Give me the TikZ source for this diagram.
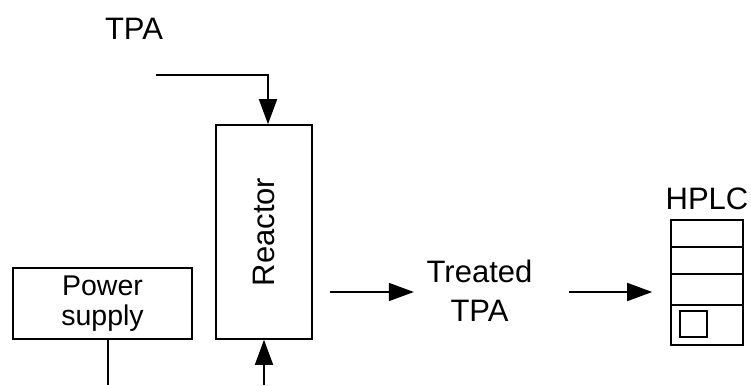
\documentclass[tikz,border=0pt]{standalone}
\usepackage{fontspec}
\setmainfont{Liberation Sans}
\usetikzlibrary{arrows.meta,positioning}
\begin{document}
\begin{tikzpicture}[x=1pt,y=-1pt,
  line width=1.6pt,
  font=\fontsize{31}{39}\selectfont,
  arr/.style={-{Triangle[length=25pt,width=18pt]}},
  box/.style={draw,rectangle,inner sep=0pt},
  lbl/.style={inner sep=0pt,align=center}]
\useasboundingbox (0,0) rectangle (751,385);
% nodes
\node[lbl] (tpa) at (134,29) {TPA};
\node[box,minimum width=96pt,minimum height=214pt] (reactor) at (264,232) {};
\node[rotate=90,inner sep=0pt] (reactorlbl) at (264,232) {Reactor};
\node[box,minimum width=179pt,minimum height=71pt,align=center,
      font=\fontsize{28.5}{30}\selectfont] (ps) at (102.5,303.5) {Power\\supply};
\node[lbl,inner sep=12pt] (treated) at (479.5,291) {Treated\\TPA};
\node[box,minimum width=72pt,minimum height=125pt] (hplc) at (707,282.5) {};
\node[lbl,anchor=south] (hplclbl) at (707,211) {HPLC};
\node[box,minimum width=27pt,minimum height=26pt] (sq) at (693.5,324) {};
% HPLC dividers
\draw (hplc.west |- 0,247) -- (hplc.east |- 0,247);
\draw (hplc.west |- 0,274) -- (hplc.east |- 0,274);
\draw (hplc.west |- 0,305) -- (hplc.east |- 0,305);
% connectors
\coordinate (tpain) at (156,75);
\draw[arr] (tpain) -| ([xshift=4pt]reactor.north);
\coordinate (rin) at (264,385);
\draw[arr] (rin) -- (reactor.south);
\coordinate (psout) at (108,385);
\draw ([xshift=5.5pt]ps.south) -- (psout);
\draw[arr,shorten <=17pt] (reactor.east |- 0,292) -- (treated.west |- 0,292);
\draw[arr,shorten <=24pt,shorten >=18pt] (treated.east |- 0,292) -- (hplc.west |- 0,292);
\end{tikzpicture}
\end{document}
